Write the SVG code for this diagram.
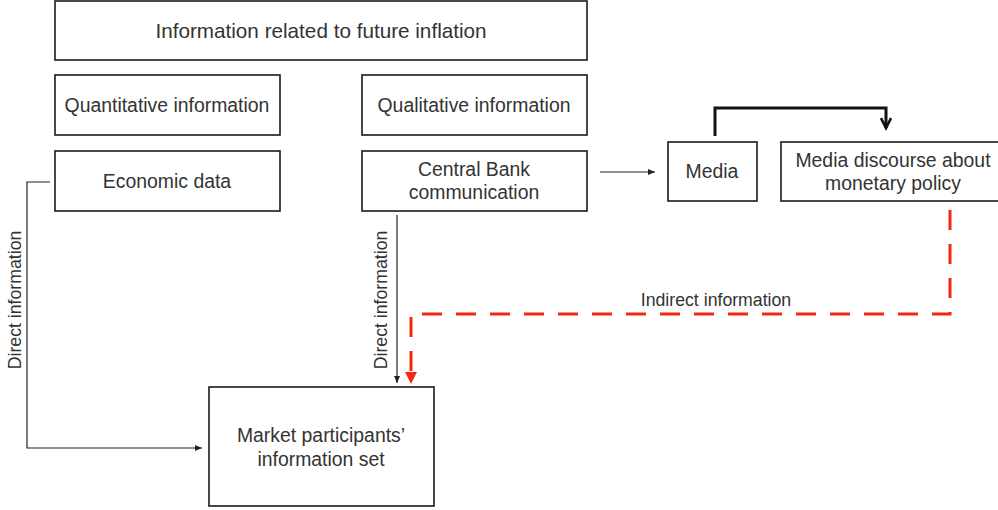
<svg xmlns="http://www.w3.org/2000/svg" width="998" height="510" viewBox="0 0 998 510">
<style>
.box{fill:#fff;stroke:#1a1a1a;stroke-width:1.6}
.t{font-family:"Liberation Sans",Arial,sans-serif;font-size:19.4px;fill:#333;text-anchor:middle}
.big{font-size:20.7px}
.s{font-family:"Liberation Sans",Arial,sans-serif;font-size:17.7px;fill:#333;text-anchor:middle}
.thin{fill:none;stroke:#222;stroke-width:1.2}
.red{fill:none;stroke:#f5290f;stroke-width:3;stroke-dasharray:20 14}
</style>
<defs>
<marker id="ah" markerWidth="8" markerHeight="8" refX="7" refY="4" orient="auto" markerUnits="userSpaceOnUse">
<path d="M0,1 L7,4 L0,7 Z" fill="#222"/>
</marker>
<marker id="open" markerWidth="16" markerHeight="12" refX="12" refY="6" orient="auto" markerUnits="userSpaceOnUse">
<path d="M2,1 L12,6 L2,11" fill="none" stroke="#111" stroke-width="2.6"/>
</marker>
</defs>
<rect width="998" height="510" fill="#fff"/>
<g id="n-top"><rect class="box" x="55" y="1" width="532" height="59"/><text class="t big" x="321" y="38">Information related to future inflation</text></g>
<g id="n-quant"><rect class="box" x="55" y="75" width="225" height="60"/><text class="t" x="167" y="112">Quantitative information</text></g>
<g id="n-qual"><rect class="box" x="362" y="75" width="225" height="60"/><text class="t" x="474" y="112">Qualitative information</text></g>
<g id="n-econ"><rect class="box" x="55" y="151" width="225" height="60"/><text class="t" x="167" y="188">Economic data</text></g>
<g id="n-cb"><rect class="box" x="362" y="151" width="225" height="60"/><text class="t" x="474" y="176">Central Bank</text><text class="t" x="474" y="199">communication</text></g>
<g id="n-media"><rect class="box" x="668" y="142" width="89" height="59"/><text class="t" x="712" y="178">Media</text></g>
<g id="n-disc"><rect class="box" x="781" y="142" width="222" height="59"/><text class="t" x="893" y="167">Media discourse about</text><text class="t" x="893" y="190">monetary policy</text></g>
<g id="n-mkt"><rect class="box" x="209" y="387" width="225" height="119"/><text class="t" x="321" y="442">Market participants’</text><text class="t" x="321" y="466">information set</text></g>
<g id="connectors">
<path class="thin" d="M50,182 H27 V448 H202" marker-end="url(#ah)"/>
<path class="thin" d="M600,172 H655" marker-end="url(#ah)"/>
<path class="thin" d="M397,215 V383" marker-end="url(#ah)"/>
<path d="M715,136 V108 H886 V128" fill="none" stroke="#111" stroke-width="3" marker-end="url(#open)"/>
<path class="red" d="M950,210 V314 H411 V372"/>
<path d="M405,372 L417,372 L411,384 Z" fill="#f5290f"/>
<text class="s" x="716" y="306">Indirect information</text>
<text class="s" transform="translate(21,300) rotate(-90)">Direct information</text>
<text class="s" transform="translate(387,300) rotate(-90)">Direct information</text>
</g>
</svg>
